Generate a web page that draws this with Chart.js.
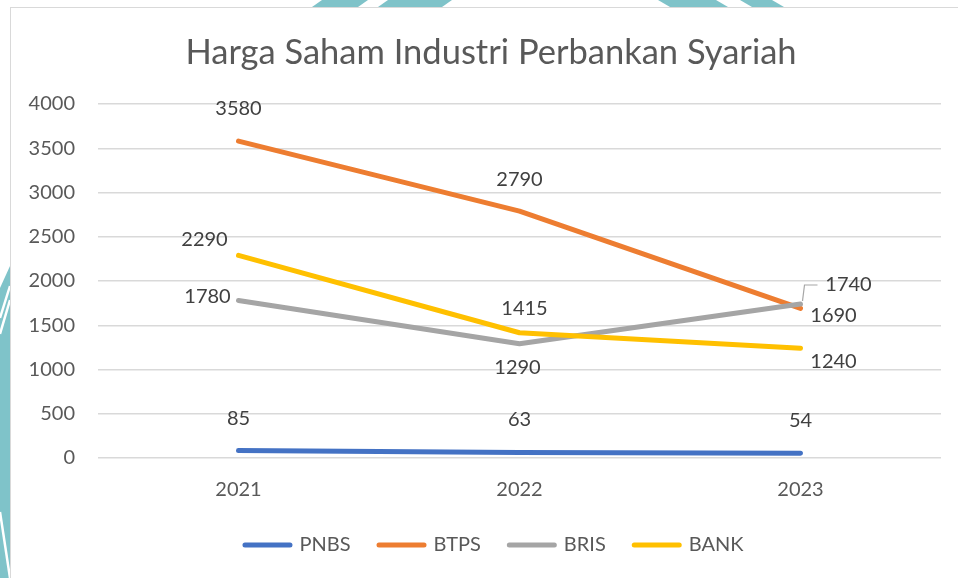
<!DOCTYPE html>
<html>
<head>
<meta charset="utf-8">
<script src="https://cdn.jsdelivr.net/npm/chart.js@4.4.1/dist/chart.umd.min.js"></script>
<style>
  html, body { margin: 0; padding: 0; background: #ffffff; }
  #wrap { position: relative; width: 958px; height: 578px; overflow: hidden; background: #ffffff; }
  #deco { position: absolute; left: 0; top: 0; }
  #box { position: absolute; left: 10px; top: 7px; width: 960px; height: 590px;
         background: #ffffff; border-left: 1.5px solid #d9d9d9; border-top: 1.5px solid #d9d9d9; }
  #c { position: absolute; left: 0; top: 0; }
</style>
</head>
<body>
<div id="wrap">
  <svg id="deco" width="958" height="578" xmlns="http://www.w3.org/2000/svg">
    <g fill="#7fc3c9">
      <polygon points="322,0 368,0 358,7 312,7"/>
      <polygon points="388,0 452,0 442,7 378,7"/>
      <polygon points="658,0 716,0 728,7 670,7"/>
      <polygon points="740,0 772,0 784,7 752,7"/>
      <polygon points="0,288 10,266 10,578 0,578"/>
    </g>
    <g stroke="#ffffff" stroke-width="2.5" fill="none">
      <line x1="10" y1="286" x2="0" y2="318"/>
      <line x1="10" y1="300" x2="0" y2="334"/>
      <line x1="0" y1="512" x2="10" y2="578"/>
    </g>
  </svg>
  <div id="box"></div>
  <canvas id="c" width="958" height="578"></canvas>
</div>
<script>
// ---- data ----
const title = 'Harga Saham Industri Perbankan Syariah';
const categories = ['2021', '2022', '2023'];
const seriesNames = ['PNBS', 'BTPS', 'BRIS', 'BANK'];
const pnbs = [85, 63, 54];
const btps = [3580, 2790, 1690];
const bris = [1780, 1290, 1740];
const bank = [2290, 1415, 1240];
const yTicks = [0, 500, 1000, 1500, 2000, 2500, 3000, 3500, 4000];

// ---- styles ----
const colors = ['#4472C4', '#ED7D31', '#A5A5A5', '#FFC000'];
const FONT = 'Lato, "Open Sans", "DejaVu Sans", sans-serif';
// label offsets (pixels from the point) per series / per category
const labelOffsets = [
  [[0, -32], [0, -33], [0, -33]],
  [[0, -33], [0, -32], [33, 7]],
  [[-31, -4], [-2, 24], [48, -19, 'leader']],
  [[-34, -16], [5, -24], [33, 13]]
];
const legendStyle = { centerX: 493, y: 545, lineLen: 50, textGap: 7, itemGap: 26, fontSize: 20 };
const titleStyle = { centerX: 491, y: 52.7, fontSize: 34.5, color: '#595959' };

const seriesValues = [pnbs, btps, bris, bank];
const datasets = seriesNames.map((name, i) => ({
  label: name,
  data: seriesValues[i],
  borderColor: colors[i],
  backgroundColor: colors[i],
  borderWidth: 5,
  borderCapStyle: 'round',
  borderJoinStyle: 'round',
  pointRadius: 0,
  pointHoverRadius: 0,
  tension: 0,
  fill: false,
  order: seriesNames.length - i
}));

const labelPlugin = {
  id: 'valueLabels',
  afterDatasetsDraw(chart) {
    const ctx = chart.ctx;
    ctx.save();
    ctx.font = '20px ' + FONT;
    ctx.fillStyle = '#404040';
    ctx.textAlign = 'center';
    ctx.textBaseline = 'middle';
    chart.data.datasets.forEach((ds, di) => {
      const meta = chart.getDatasetMeta(di);
      meta.data.forEach((pt, pi) => {
        const off = labelOffsets[di][pi];
        const x = pt.x + off[0];
        const y = pt.y + off[1];
        if (off[2] === 'leader') {
          ctx.save();
          ctx.strokeStyle = '#a6a6a6';
          ctx.lineWidth = 1.2;
          ctx.beginPath();
          ctx.moveTo(pt.x + 2, pt.y - 3);
          ctx.lineTo(pt.x + 4, y);
          ctx.lineTo(pt.x + 17, y);
          ctx.stroke();
          ctx.restore();
        }
        ctx.fillText(String(ds.data[pi]), x, y);
      });
    });
    ctx.restore();
  }
};

const titleLegendPlugin = {
  id: 'titleAndLegend',
  afterDraw(chart) {
    const ctx = chart.ctx;
    ctx.save();
    // title
    const t = titleStyle;
    ctx.font = t.fontSize + 'px ' + FONT;
    ctx.fillStyle = t.color;
    ctx.textAlign = 'center';
    ctx.textBaseline = 'middle';
    ctx.fillText(title, t.centerX, t.y);
    // legend
    const s = legendStyle;
    ctx.font = s.fontSize + 'px ' + FONT;
    const items = chart.data.datasets.map(ds => ({ text: ds.label, color: ds.borderColor, w: ctx.measureText(ds.label).width }));
    const total = items.reduce((a, it) => a + s.lineLen + s.textGap + it.w, 0) + s.itemGap * (items.length - 1);
    let x = s.centerX - total / 2;
    items.forEach(it => {
      ctx.strokeStyle = it.color;
      ctx.lineWidth = 5;
      ctx.lineCap = 'round';
      ctx.beginPath();
      ctx.moveTo(x + 2.5, s.y);
      ctx.lineTo(x + s.lineLen - 2.5, s.y);
      ctx.stroke();
      ctx.fillStyle = '#595959';
      ctx.textAlign = 'left';
      ctx.textBaseline = 'middle';
      ctx.fillText(it.text, x + s.lineLen + s.textGap, s.y);
      x += s.lineLen + s.textGap + it.w + s.itemGap;
    });
    ctx.restore();
  }
};

new Chart(document.getElementById('c'), {
  type: 'line',
  data: { labels: categories, datasets },
  plugins: [labelPlugin, titleLegendPlugin],
  options: {
    responsive: false,
    animation: false,
    devicePixelRatio: 1,
    layout: { padding: { left: 10, right: 17, top: 104, bottom: 75 } },
    plugins: {
      tooltip: { enabled: false },
      legend: { display: false },
      title: { display: false }
    },
    scales: {
      x: {
        offset: true,
        grid: { display: false, drawTicks: false },
        border: { display: false },
        ticks: { color: '#595959', font: { family: FONT, size: 20 }, padding: 20 },
        afterFit(scale) { scale.height = 45; }
      },
      y: {
        min: 0,
        max: 4000,
        afterBuildTicks(scale) { scale.ticks = yTicks.map(v => ({ value: v })); },
        grid: { color: '#d9d9d9', lineWidth: 1.5, drawTicks: false },
        border: { display: false },
        ticks: { color: '#595959', font: { family: FONT, size: 20 }, padding: 23,
                 callback: (v) => String(v) },
        afterFit(scale) { scale.width = 88; }
      }
    }
  }
});
</script>
</body>
</html>
